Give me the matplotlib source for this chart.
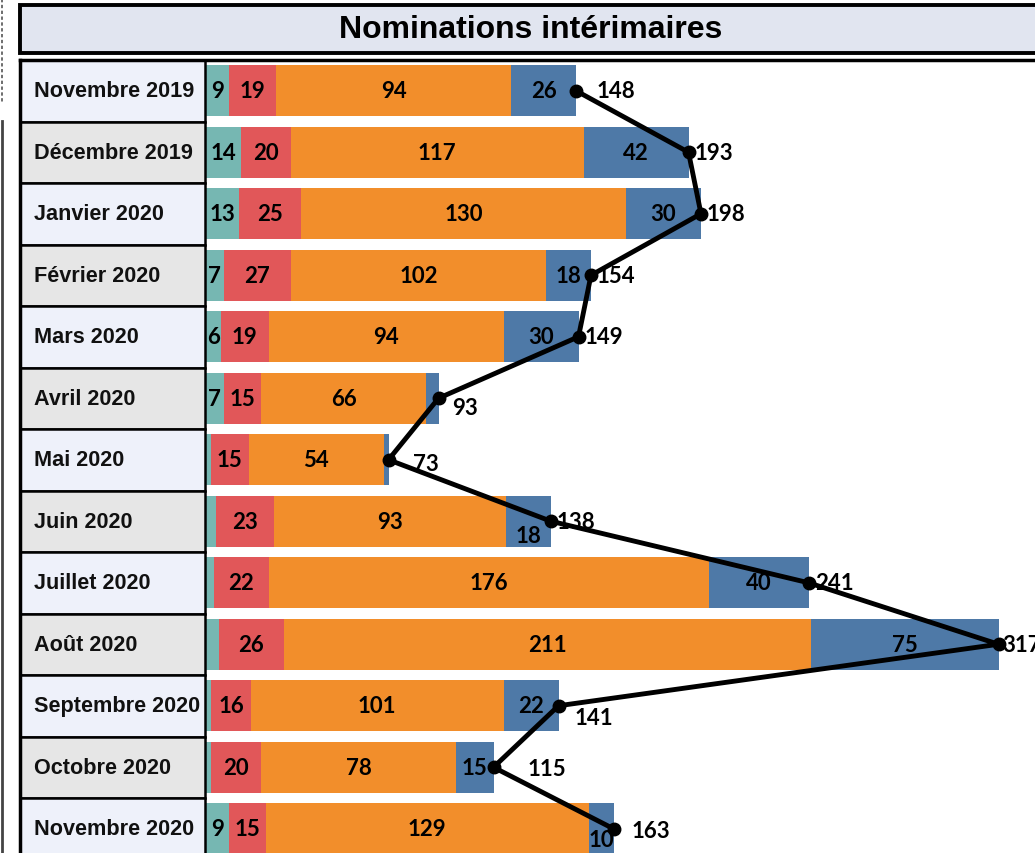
import matplotlib
matplotlib.use("Agg")
import matplotlib.pyplot as plt
from matplotlib.patches import Rectangle
from matplotlib.lines import Line2D

# ---- data ----
months = ["Novembre 2019", "Décembre 2019", "Janvier 2020", "Février 2020", "Mars 2020",
          "Avril 2020", "Mai 2020", "Juin 2020", "Juillet 2020", "Août 2020",
          "Septembre 2020", "Octobre 2020", "Novembre 2020"]
teal = [9, 14, 13, 7, 6, 7, 2, 4, 3, 5, 2, 2, 9]
red = [19, 20, 25, 27, 19, 15, 15, 23, 22, 26, 16, 20, 15]
orange = [94, 117, 130, 102, 94, 66, 54, 93, 176, 211, 101, 78, 129]
blue = [26, 42, 30, 18, 30, 5, 2, 18, 40, 75, 22, 15, 10]
totals = [148, 193, 198, 154, 149, 93, 73, 138, 241, 317, 141, 115, 163]
title = "Nominations intérimaires"

# ---- styling ----
W, H = 1035, 854
DPI = 100
C_TEAL, C_RED, C_ORANGE, C_BLUE = "#76B7B2", "#E15759", "#F28E2B", "#4E79A7"
LIGHT, GREY = "#EEF1FA", "#E6E6E6"
LABEL_FONT = ["Lato", "DejaVu Sans"]
ROW_FONT = ["Liberation Sans", "DejaVu Sans"]

# offsets (pixels) of total labels and blue labels
tot_off = [(21, 0), (6, 0), (6, 0), (6, 0), (6, 0), (14, -9), (24, -4), (6, 0),
           (7, 0), (4, 0), (16, -12), (34, -1), (18, -2)]
blue_off = [0, 0, 0, 0, 0, 0, 0, -14, 0, 0, 0, 0, -11]

fig = plt.figure(figsize=(W / DPI, H / DPI), dpi=DPI)
fig.patch.set_facecolor("white")

def fx(px):
    return px / W

def fy(py):
    return 1 - py / H

top_px, bot_px = 61, 854
row_h = 61.5
n = len(months)
ylim = (-0.5 + (bot_px - top_px) / row_h, -0.5)

# bar axes
axb = fig.add_axes([fx(206), fy(bot_px), fx(1035 - 206), (bot_px - top_px) / H])
axb.set_xlim(0, (1035 - 206) / 2.5)
axb.set_ylim(*ylim)
axb.axis("off")

ys = list(range(n))
bh = 0.83
left = [0] * n
for vals, col in [(teal, C_TEAL), (red, C_RED), (orange, C_ORANGE), (blue, C_BLUE)]:
    bars = axb.barh(ys, vals, left=left, height=bh, color=col, edgecolor="none")
    for i, (b, v) in enumerate(zip(bars, vals)):
        show = v >= 6 if col != C_BLUE else v >= 10
        if show:
            dy = blue_off[i] if col == C_BLUE else 0
            axb.annotate(str(v), (left[i] + v / 2, i), xytext=(0, dy),
                         textcoords="offset pixels", ha="center", va="center",
                         fontsize=16, fontweight="bold", family=LABEL_FONT,
                         color="black", zorder=5)
    left = [l + v for l, v in zip(left, vals)]

axb.plot(totals, ys, color="black", lw=3.5, marker="o", markersize=9, zorder=4,
         clip_on=False)
for i, t in enumerate(totals):
    dx, dy = tot_off[i]
    axb.annotate(str(t), (t, i), xytext=(dx, dy), textcoords="offset pixels",
                 ha="left", va="center", fontsize=16, fontweight="bold",
                 family=LABEL_FONT, color="black", zorder=6, annotation_clip=False)

# label column axes
axl = fig.add_axes([fx(20), fy(bot_px), fx(205 - 20), (bot_px - top_px) / H])
axl.set_xlim(0, 1)
axl.set_ylim(*ylim)
axl.axis("off")
for i, m in enumerate(months):
    axl.add_patch(Rectangle((0, i - 0.5), 1, 1, facecolor=LIGHT if i % 2 == 0 else GREY,
                            edgecolor="black", lw=1.8, clip_on=False))
    axl.text(0.075, i, m, ha="left", va="center", fontsize=15.6, fontweight="bold",
             family=ROW_FONT, color="#111111")
axl.plot([0, 0], [ylim[0], ylim[1]], color="black", lw=2.5, clip_on=False)

# title box
fig.add_artist(Rectangle((fx(20), fy(54)), fx(1045 - 20), (54 - 6) / H,
                         facecolor="#E1E5F0", edgecolor="black", lw=2.8,
                         transform=fig.transFigure))
fig.text(fx(531), fy(30), title, ha="center", va="center", fontsize=23,
         fontweight="bold", family=ROW_FONT, color="black")
fig.add_artist(Line2D([fx(20), fx(1035)], [fy(61), fy(61)], color="black", lw=2.5,
                      transform=fig.transFigure))

# page artifacts at the left edge
fig.add_artist(Line2D([fx(2), fx(2)], [fy(0), fy(105)], color="#555555", lw=1.2,
                      ls=(0, (2, 1.5)), transform=fig.transFigure))
fig.add_artist(Line2D([fx(1.5), fx(1.5)], [fy(122), fy(854)], color="#444444", lw=2,
                      transform=fig.transFigure))

fig.savefig("out.png", dpi=DPI)
